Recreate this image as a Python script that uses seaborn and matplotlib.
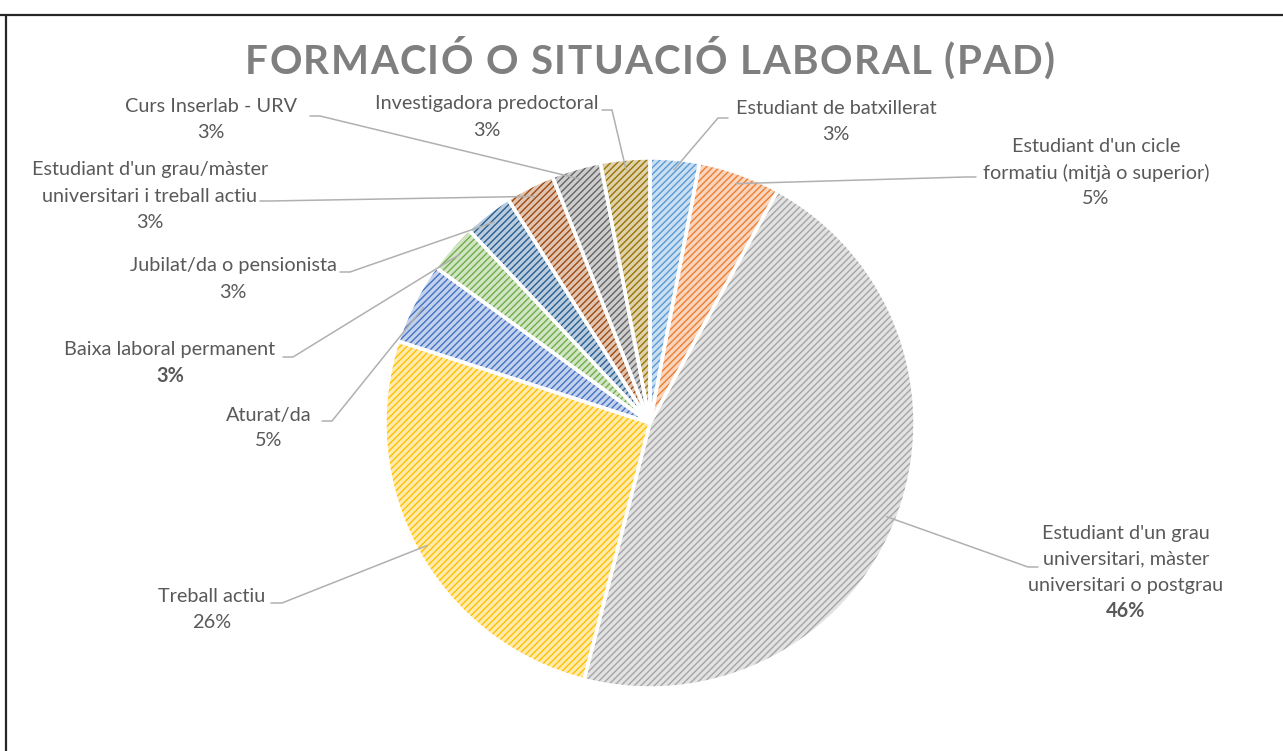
import numpy as np
import matplotlib.pyplot as plt
import seaborn as sns
from matplotlib.lines import Line2D
from matplotlib.colors import to_rgb

# data (clockwise from 12 o'clock)
categories = ["Estudiant de batxillerat",
              "Estudiant d'un cicle\nformatiu (mitjà o superior)",
              "Estudiant d'un grau\nuniversitari, màster\nuniversitari o postgrau",
              "Treball actiu",
              "Aturat/da",
              "Baixa laboral permanent",
              "Jubilat/da o pensionista",
              "Estudiant d'un grau/màster\nuniversitari i treball actiu",
              "Curs Inserlab - URV",
              "Investigadora predoctoral"]
percentages = [3, 5, 46, 26, 5, 3, 3, 3, 3, 3]

colors = ["#5B9BD5", "#ED7D31", "#A5A5A5", "#FFC000", "#4472C4", "#70AD47",
          "#255E91", "#9E480E", "#636363", "#997300"]

# label layout in pixels (text centre x, first line y, stub start x, stub end x, stub y)
label_pos = [(836, 108, 718, 728, 118),
             (1096, 147, 965, 976, 177),
             (1126, 533, 1028, 1038, 567),
             (212, 597, 282, 271, 603),
             (269, 415, 332, 322, 421),
             (170, 350, 293, 283, 357),
             (233, 266, 350, 340, 272),
             (150, 170, 270, 260, 201),
             (211, 107, 320, 310, 116),
             (487, 104, 612, 602, 110)]
bold_pct = [False, False, True, False, False, True, False, False, False, False]

W, H = 1283, 751
CX, CY, R = 650, 423, 265


def Y(y):
    return H - y


def lighten(c, f):
    r, g, b = to_rgb(c)
    return (r + (1 - r) * f, g + (1 - g) * f, b + (1 - b) * f)


sns.set_theme(style="white")
plt.rcParams['font.family'] = ['Lato', 'DejaVu Sans']
plt.rcParams['hatch.linewidth'] = 1.0

fig = plt.figure(figsize=(W / 100, H / 100), dpi=100)
ax = fig.add_axes([0, 0, 1, 1])

faces = [lighten(c, 0.68) for c in colors]
wedges, _ = ax.pie(percentages, colors=faces, startangle=90, counterclock=False,
                   center=(CX, Y(CY)), radius=R,
                   wedgeprops=dict(linewidth=0, hatch='/////'))
for w, c in zip(wedges, colors):
    w.set_edgecolor(c)
    w.set_linewidth(0)

# white separators
ax.pie(percentages, startangle=90, counterclock=False, center=(CX, Y(CY)), radius=R,
       wedgeprops=dict(fill=False, edgecolor='white', linewidth=2.5))

ax.set_xlim(0, W)
ax.set_ylim(0, H)
ax.set_aspect('auto')
ax.axis('off')

for i, w in enumerate(wedges):
    tx, ty, sx1, sx2, sy = label_pos[i]
    lines = categories[i].split('\n') + [f"{percentages[i]}%"]
    for j, line in enumerate(lines):
        bold = bold_pct[i] and j == len(lines) - 1
        ax.text(tx, Y(ty + 26 * j), line, ha='center', va='center', fontsize=14.3,
                color='#595959', fontweight='bold' if bold else 'normal')
    mid = np.deg2rad((w.theta1 + w.theta2) / 2)
    px = CX + 0.96 * R * np.cos(mid)
    py = Y(CY) + 0.96 * R * np.sin(mid)
    ax.plot([px, sx1, sx2], [py, Y(sy), Y(sy)], color='#b0b0b0', lw=1.1)

# title with letter spacing, one glyph at a time
title = "FORMACIÓ O SITUACIÓ LABORAL (PAD)"
tkw = dict(fontsize=29, fontweight='bold', color='#7f7f7f', va='center', ha='left')
renderer = fig.canvas.get_renderer()


def text_w(s):
    t = ax.text(0, 0, s, **tkw)
    wd = t.get_window_extent(renderer).width
    t.remove()
    return wd


base = text_w("HH")
widths = [text_w("H" + ch + "H") - base for ch in title]
gap = (810 - sum(widths)) / (len(title) - 1)
x = CX - 405
for ch, wd in zip(title, widths):
    ax.text(x, Y(62), ch, **tkw)
    x += wd + gap

# chart frame (top and left edges visible)
fig.add_artist(Line2D([0, 1], [1 - 15 / H] * 2, color='#262626', lw=1.6))
fig.add_artist(Line2D([6 / W] * 2, [0, 1 - 15 / H], color='#262626', lw=1.6))

plt.savefig('out.png', dpi=100)
